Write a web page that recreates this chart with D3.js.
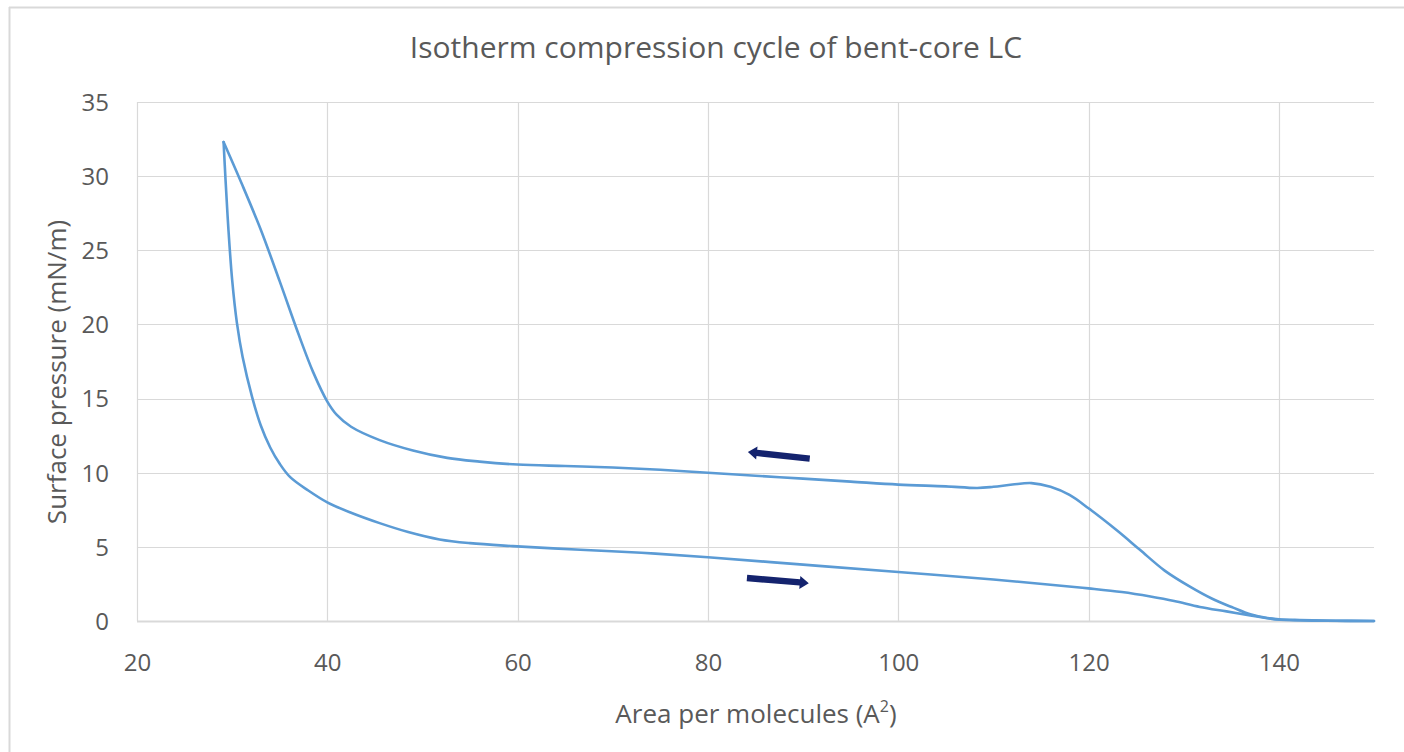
<!DOCTYPE html>
<html>
<head>
<meta charset="utf-8">
<script src="https://cdn.jsdelivr.net/npm/d3@7"></script>
<style>
  html,body{margin:0;padding:0;background:#fff;}
  svg{display:block;font-family:"Open Sans",sans-serif;}
</style>
</head>
<body>
<svg id="chart" width="1404" height="752"></svg>
<script>
// compression (upper branch)
const compArea = [150, 146, 142.2, 140, 138.8, 137, 135.2, 133, 130.7, 128, 125.4, 123, 120, 118, 116, 114, 112, 110, 108.3, 105, 100, 95, 90, 85, 80, 75, 70, 65, 60, 56, 52.6, 49, 45.5, 42.5, 41, 40, 38.5, 37, 35, 33, 31, 29.1];
const compPressure = [0, 0.02, 0.07, 0.12, 0.2, 0.45, 0.9, 1.5, 2.3, 3.4, 4.8, 6.1, 7.6, 8.5, 9.05, 9.3, 9.2, 9.05, 8.97, 9.08, 9.2, 9.4, 9.6, 9.8, 10.0, 10.2, 10.35, 10.45, 10.55, 10.75, 11.0, 11.5, 12.2, 13.1, 13.9, 14.8, 16.8, 19.3, 22.9, 26.4, 29.5, 32.3];
// expansion (lower branch)
const expArea = [29.1, 29.3, 29.6, 30.0, 30.5, 31.1, 32.1, 33.0, 34.0, 35.0, 36.1, 38, 40, 42.5, 45.5, 48.5, 51.8, 55, 59.5, 66.6, 73, 80, 90, 100, 110, 116, 120, 123.5, 126.5, 129, 131.7, 134.5, 137, 140.1, 145, 150];
const expPressure = [32.3, 29.8, 26.5, 23.0, 20.1, 17.8, 15.1, 13.2, 11.7, 10.6, 9.7, 8.8, 8.0, 7.3, 6.6, 6.0, 5.5, 5.25, 5.05, 4.8, 4.6, 4.3, 3.8, 3.3, 2.8, 2.45, 2.2, 1.95, 1.65, 1.35, 0.95, 0.65, 0.38, 0.08, 0.02, 0];

const xTicks = [20, 40, 60, 80, 100, 120, 140];
const yTicks = [0, 5, 10, 15, 20, 25, 30, 35];

// direction arrows: [tailX, tailY, tipX, tipY] in data units
const arrowLeft = [90.7, 10.95, 84.2, 11.4];
const arrowRight = [84.1, 2.9, 90.6, 2.55];

const chartTitle = "Isotherm compression cycle of bent-core LC";
const yTitle = "Surface pressure (mN/m)";

const svg = d3.select('#chart');
const txt = '#595959', grid = '#d9d9d9', lineCol = '#5b9bd5', arrowCol = '#14236e';

// outer frame (only top and left edge visible)
svg.append('line').attr('x1',9).attr('y1',7.5).attr('x2',1404).attr('y2',7.5).attr('stroke','#d9d9d9').attr('stroke-width',2);
svg.append('line').attr('x1',9.5).attr('y1',7).attr('x2',9.5).attr('y2',752).attr('stroke','#d9d9d9').attr('stroke-width',2);

const x = d3.scaleLinear().domain([20,150]).range([137,1374]);
const y = d3.scaleLinear().domain([0,35]).range([621,102]);

// grid
const g = svg.append('g');
g.selectAll('.hg').data(yTicks).enter().append('line')
  .attr('x1',x(20)).attr('x2',x(150))
  .attr('y1',d=>Math.round(y(d))+0.5).attr('y2',d=>Math.round(y(d))+0.5)
  .attr('stroke',grid).attr('stroke-width',d=>d===0?2:1.2);
g.selectAll('.vg').data(xTicks).enter().append('line')
  .attr('x1',d=>Math.round(x(d))+0.5).attr('x2',d=>Math.round(x(d))+0.5)
  .attr('y1',y(35)).attr('y2',y(0))
  .attr('stroke',grid).attr('stroke-width',1.2);

// tick labels via axes
const xAxis = svg.append('g').attr('transform',`translate(0,${y(0)})`)
  .call(d3.axisBottom(x).tickValues(xTicks).tickSize(0).tickPadding(33));
const yAxis = svg.append('g').attr('transform',`translate(${x(20)},0)`)
  .call(d3.axisLeft(y).tickValues(yTicks).tickSize(0).tickPadding(28));
[xAxis,yAxis].forEach(a=>{
  a.select('.domain').remove();
  a.selectAll('text').attr('fill',txt).style('font-size','24px').style('font-family','"Open Sans",sans-serif');
});
yAxis.selectAll('text').attr('dy','0.35em');

// curves
const line = d3.line().x(d=>x(d[0])).y(d=>y(d[1])).curve(d3.curveCatmullRom.alpha(0.5));
const comp = compArea.map((a,i)=>[a,compPressure[i]]);
const exp = expArea.map((a,i)=>[a,expPressure[i]]);
[comp,exp].forEach(s=>{
  svg.append('path').datum(s).attr('d',line)
    .attr('fill','none').attr('stroke',lineCol).attr('stroke-width',2.6)
    .attr('stroke-linejoin','round').attr('stroke-linecap','round');
});

// arrows
function drawArrow(a){
  const x0=x(a[0]), y0=y(a[1]), x1=x(a[2]), y1=y(a[3]);
  const ang=Math.atan2(y1-y0,x1-x0), len=Math.hypot(x1-x0,y1-y0);
  const hl=9, hw=6.5, sw=3.2;
  const pts=[[0,-sw],[len-hl,-sw],[len-hl,-hw],[len,0],[len-hl,hw],[len-hl,sw],[0,sw]];
  svg.append('polygon')
    .attr('points',pts.map(p=>p.join(',')).join(' '))
    .attr('transform',`translate(${x0},${y0}) rotate(${ang*180/Math.PI})`)
    .attr('fill',arrowCol);
}
drawArrow(arrowLeft);
drawArrow(arrowRight);

// titles
svg.append('text').attr('x',716).attr('y',58).attr('text-anchor','middle')
  .attr('fill',txt).style('font-size','30px').text(chartTitle);
const xt = svg.append('text').attr('x',756).attr('y',723).attr('text-anchor','middle')
  .attr('fill',txt).style('font-size','26px');
xt.append('tspan').text('Area per molecules (A');
xt.append('tspan').attr('dy',-11).style('font-size','16px').text('2');
xt.append('tspan').attr('dy',11).text(')');
svg.append('text').attr('transform','translate(66,372) rotate(-90)').attr('text-anchor','middle')
  .attr('fill',txt).style('font-size','26px').text(yTitle);
</script>
</body>
</html>
